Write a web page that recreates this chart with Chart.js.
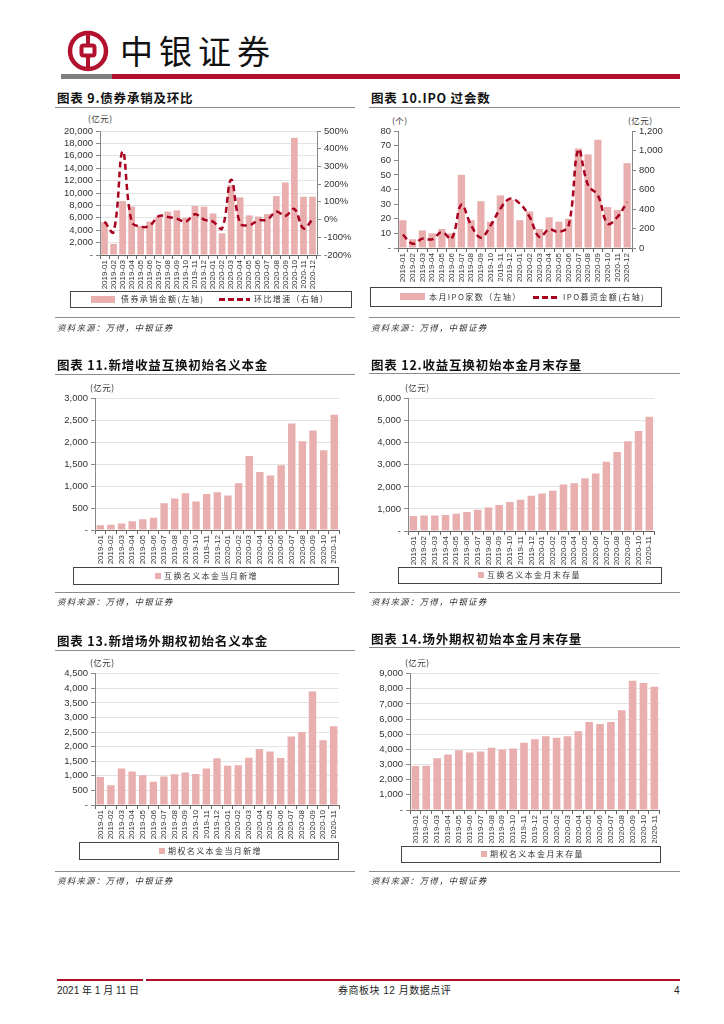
<!DOCTYPE html>
<html><head><meta charset="utf-8">
<script src="https://cdn.jsdelivr.net/npm/chart.js@4.4.0/dist/chart.umd.min.js"></script>
<style>
html,body{margin:0;padding:0;background:#fff;}
body{width:724px;height:1024px;position:relative;overflow:hidden;font-family:"Liberation Sans","Noto Sans CJK SC",sans-serif;color:#222;}
.a{position:absolute;white-space:nowrap;}
.title{font-family:"Noto Sans CJK SC";font-weight:700;font-size:12.5px;line-height:14px;letter-spacing:0.8px;color:#111;}
.hr{position:absolute;height:0;border-top:1.5px solid #8c8c8c;}
.src{font-family:"Noto Sans CJK SC";font-style:italic;font-size:8.5px;line-height:10px;letter-spacing:1.2px;color:#333;}
.unit{font-family:"Noto Sans CJK SC";font-size:8.5px;line-height:10px;letter-spacing:0.5px;color:#333;}
.lgbox{position:absolute;border:1.5px solid #444;box-sizing:border-box;}
.lgt{position:absolute;white-space:nowrap;font-family:"Noto Sans CJK SC";font-size:8px;line-height:10px;letter-spacing:1.4px;color:#333;}
.sw{position:absolute;background:#e9aeae;}
.dash{position:absolute;height:2.5px;background:repeating-linear-gradient(90deg,#a8001f 0 6px,transparent 6px 9px);}
canvas{position:absolute;}
</style>
</head>
<body>
<!-- header -->
<svg class="a" style="left:66px;top:29px" width="44" height="44" viewBox="0 0 44 44">
  <circle cx="22" cy="22" r="18" fill="none" stroke="#b3122f" stroke-width="4.5"/>
  <rect x="15.5" y="16.5" width="13" height="10" rx="2" fill="none" stroke="#b3122f" stroke-width="4"/>
  <line x1="22" y1="4" x2="22" y2="15" stroke="#b3122f" stroke-width="4"/>
  <line x1="22" y1="28" x2="22" y2="40" stroke="#b3122f" stroke-width="4"/>
</svg>
<div class="a" style="left:120px;top:28px;font-family:'Noto Sans CJK SC';font-size:33px;line-height:44px;letter-spacing:6px;color:#111;">中银证券</div>
<div class="a" style="left:61px;top:74px;width:51px;height:5px;background:#7f7f7f;"></div>
<div class="a" style="left:112px;top:74px;width:568px;height:5px;background:#b0102b;"></div>

<!-- chart 9 -->
<div class="a title" style="left:57px;top:91px;">图表 9.债券承销及环比</div>
<div class="hr" style="left:55px;top:107px;width:300px;"></div>
<div class="a unit" style="left:88px;top:113px;">(亿元)</div>
<canvas id="c9"></canvas>
<div class="lgbox" style="left:70px;top:291px;width:282px;height:17px;"></div>
<div class="sw" style="left:91px;top:296px;width:24px;height:7px;"></div>
<div class="lgt" style="left:121px;top:294px;">债券承销金额(左轴)</div>
<div class="dash" style="left:219px;top:298px;width:31px;"></div>
<div class="lgt" style="left:254px;top:294px;">环比增速（右轴）</div>
<div class="hr" style="left:55px;top:317px;width:300px;"></div>
<div class="a src" style="left:57px;top:322px;">资料来源：万得，中银证券</div>

<!-- chart 10 -->
<div class="a title" style="left:371px;top:91px;">图表 10.IPO 过会数</div>
<div class="hr" style="left:369px;top:107px;width:311px;"></div>
<div class="a unit" style="left:392px;top:115px;">(个)</div>
<div class="a unit" style="left:628px;top:115px;">(亿元)</div>
<canvas id="c10"></canvas>
<div class="lgbox" style="left:370px;top:287px;width:292px;height:20px;"></div>
<div class="sw" style="left:400px;top:293px;width:25px;height:7px;"></div>
<div class="lgt" style="left:429px;top:292px;">本月IPO家数（左轴）</div>
<div class="dash" style="left:533px;top:296px;width:26px;"></div>
<div class="lgt" style="left:563px;top:292px;">IPO募资金额(右轴)</div>
<div class="hr" style="left:369px;top:317px;width:311px;"></div>
<div class="a src" style="left:371px;top:322px;">资料来源：万得，中银证券</div>

<!-- chart 11 -->
<div class="a title" style="left:57px;top:358px;">图表 11.新增收益互换初始名义本金</div>
<div class="hr" style="left:55px;top:374px;width:300px;"></div>
<div class="a unit" style="left:90px;top:382px;">(亿元)</div>
<canvas id="c11"></canvas>
<div class="lgbox" style="left:73px;top:567px;width:266px;height:18px;"></div>
<div class="sw" style="left:155px;top:573px;width:6px;height:6px;"></div>
<div class="lgt" style="left:164px;top:571px;">互换名义本金当月新增</div>
<div class="hr" style="left:55px;top:592px;width:300px;"></div>
<div class="a src" style="left:57px;top:596px;">资料来源：万得，中银证券</div>

<!-- chart 12 -->
<div class="a title" style="left:371px;top:358px;">图表 12.收益互换初始本金月末存量</div>
<div class="hr" style="left:369px;top:373px;width:311px;"></div>
<div class="a unit" style="left:405px;top:382px;">(亿元)</div>
<canvas id="c12"></canvas>
<div class="lgbox" style="left:398px;top:567px;width:264px;height:17px;"></div>
<div class="sw" style="left:478px;top:572px;width:6px;height:6px;"></div>
<div class="lgt" style="left:487px;top:570px;">互换名义本金月末存量</div>
<div class="hr" style="left:369px;top:592px;width:311px;"></div>
<div class="a src" style="left:371px;top:596px;">资料来源：万得，中银证券</div>

<!-- chart 13 -->
<div class="a title" style="left:57px;top:634px;">图表 13.新增场外期权初始名义本金</div>
<div class="hr" style="left:55px;top:650px;width:300px;"></div>
<div class="a unit" style="left:90px;top:657px;">(亿元)</div>
<canvas id="c13"></canvas>
<div class="lgbox" style="left:79px;top:842px;width:260px;height:18px;"></div>
<div class="sw" style="left:159px;top:848px;width:6px;height:6px;"></div>
<div class="lgt" style="left:168px;top:846px;">期权名义本金当月新增</div>
<div class="hr" style="left:55px;top:871px;width:300px;"></div>
<div class="a src" style="left:57px;top:875px;">资料来源：万得，中银证券</div>

<!-- chart 14 -->
<div class="a title" style="left:371px;top:632px;">图表 14.场外期权初始本金月末存量</div>
<div class="hr" style="left:369px;top:647px;width:311px;"></div>
<div class="a unit" style="left:405px;top:657px;">(亿元)</div>
<canvas id="c14"></canvas>
<div class="lgbox" style="left:401px;top:846px;width:260px;height:17px;"></div>
<div class="sw" style="left:481px;top:851px;width:6px;height:6px;"></div>
<div class="lgt" style="left:490px;top:849px;">期权名义本金月末存量</div>
<div class="hr" style="left:369px;top:871px;width:311px;"></div>
<div class="a src" style="left:371px;top:875px;">资料来源：万得，中银证券</div>

<!-- footer -->
<div class="a" style="left:57px;top:979px;width:86px;height:1.5px;background:#b0102b;"></div>
<div class="a" style="left:146px;top:979px;width:534px;height:1.5px;background:#b0102b;"></div>
<div class="a" style="left:57px;top:985px;font-size:10px;line-height:12px;">2021 年 1 月 11 日</div>
<div class="a" style="left:338px;top:985px;font-size:10px;line-height:12px;letter-spacing:0.5px;">券商板块 12 月数据点评</div>
<div class="a" style="left:674px;top:985px;font-size:10px;line-height:12px;">4</div>

<script>
// ---------- data ----------
const months24 = ['2019-01','2019-02','2019-03','2019-04','2019-05','2019-06','2019-07','2019-08','2019-09','2019-10','2019-11','2019-12',
                  '2020-01','2020-02','2020-03','2020-04','2020-05','2020-06','2020-07','2020-08','2020-09','2020-10','2020-11','2020-12'];
const months23 = ['2019-01','2019-02','2019-03','2019-04','2019-05','2019-06','2019-07','2019-08','2019-09','2019-10','2019-11','2019-12',
                  '2020-01','2020-02','2020-03','2020-04','2020-05','2020-06','2020-07','2020-08','2020-09','2020-10','2020-11'];

const bondUnderwriting = [5300,1800,8700,7800,4700,5400,6200,7000,7200,6000,7900,7800,
                          6700,3500,11300,9300,6400,6200,6600,9500,11700,18900,9400,9400];
const bondMoM = [-12,-70,385,-12,-40,-35,20,15,5,-12,30,0,
                 -12,-50,225,-20,-32,-5,0,45,20,60,-50,0];

const ipoCount = [19,6,12,10,13,10,50,19,32,18,36,33,
                  19,25,13,21,18,20,68,64,74,28,26,58];
const ipoAmount = [137,44,96,89,164,96,444,232,106,232,403,506,
                   455,318,113,191,164,232,1008,643,540,250,318,472];

const swapNew = [110,120,150,200,245,280,610,720,840,650,820,865,
                 790,1070,1690,1324,1247,1477,2434,2028,2272,1821,2633];
const swapStock = [680,700,700,730,780,860,965,1070,1176,1311,1417,1598,
                   1704,1824,2110,2171,2397,2608,3136,3588,4070,4538,5186];
const optNew = [960,680,1247,1145,1020,793,975,1054,1111,1066,1247,1598,
                1349,1360,1621,1916,1836,1610,2346,2505,3888,2222,2698];
const optStock = [2900,2920,3424,3666,3951,3797,3863,4105,3995,4061,4434,4675,
                  4873,4763,4873,5202,5817,5685,5817,6585,8538,8385,8143];

// ---------- styling ----------
const PINK = '#e9aeae';
const DARKRED = '#a8001f';
const FAM = '"Liberation Sans", Arial, sans-serif';
const EXTRA = 10; // extra room below x-axis for rotated labels
const fmtNum = v => v === 0 ? '-' : v.toLocaleString('en-US');

function place(id, box){
  const c = document.getElementById(id);
  const h = box.h + EXTRA;
  c.width = box.w; c.height = h;
  c.style.left = box.x + 'px'; c.style.top = box.y + 'px';
  c.style.width = box.w + 'px'; c.style.height = h + 'px';
  return c.getContext('2d');
}

function xScale(h){
  return {
    type:'category', offset:true,
    grid:{display:true, drawOnChartArea:false, drawTicks:true, tickLength:4, tickColor:'#666', offset:true},
    border:{display:true, color:'#666', width:1},
    ticks:{minRotation:90, maxRotation:90, autoSkip:false, color:'#333', padding:1, font:{family:FAM, size:8}},
    afterFit: s => { s.height = h; }
  };
}
function yScale(w, max, step, gridOn, cb, pos){
  return {
    position: pos || 'left', min:0, max:max,
    grid:{display:true, drawOnChartArea:gridOn, color:'#e3e3e3', lineWidth:1, drawTicks:true, tickLength:4, tickColor:'#888'},
    border:{display:true, color:'#888', width:1},
    ticks:{stepSize:step, autoSkip:false, callback: cb || fmtNum, color:'#333', padding:3, font:{family:FAM, size:9.5}},
    afterFit: s => { s.width = w; }
  };
}

function barChart(id, box, area, labels, data, max, step, name){
  const ctx = place(id, box);
  return new Chart(ctx, {
    type:'bar',
    data:{labels:labels, datasets:[{label:name, data:data, backgroundColor:PINK, barPercentage:0.7, categoryPercentage:1.0}]},
    options:{
      responsive:false, animation:false,
      layout:{padding:{top: area.t - box.y, right: box.x + box.w - area.r, left:0, bottom:EXTRA}},
      plugins:{legend:{display:false}, tooltip:{enabled:false}},
      scales:{
        x: xScale(box.y + box.h - area.b),
        y: yScale(area.l - box.x, max, step, true)
      }
    }
  });
}

function comboChart(id, box, area, labels, bars, line, yMax, yStep, y1Min, y1Max, y1Step, y1cb, names, grid){
  const ctx = place(id, box);
  const y1 = yScale(box.x + box.w - area.r, y1Max, y1Step, false, y1cb, 'right');
  y1.min = y1Min;
  return new Chart(ctx, {
    data:{labels:labels, datasets:[
      {type:'line', label:names[1], data:line, yAxisID:'y1', borderColor:DARKRED, borderWidth:2.5, borderDash:[6,4],
       pointRadius:0, tension:0.4, fill:false, order:0},
      {type:'bar', label:names[0], data:bars, yAxisID:'y', backgroundColor:PINK, barPercentage:0.74, categoryPercentage:1.0, order:1}
    ]},
    options:{
      responsive:false, animation:false,
      layout:{padding:{top: area.t - box.y, right:0, left:0, bottom:EXTRA}},
      plugins:{legend:{display:false}, tooltip:{enabled:false}},
      scales:{
        x: xScale(box.y + box.h - area.b),
        y: yScale(area.l - box.x, yMax, yStep, grid),
        y1: y1
      }
    }
  });
}

comboChart('c9', {x:55,y:122,w:305,h:170}, {l:100,r:317,t:131,b:255}, months24, bondUnderwriting, bondMoM,
  20000, 2000, -200, 500, 100, v => v + '%', ['债券承销金额(左轴)','环比增速（右轴）'], true);

comboChart('c10', {x:360,y:122,w:305,h:163}, {l:398,r:632,t:131,b:248}, months24, ipoCount, ipoAmount,
  80, 10, 0, 1200, 200, v => v.toLocaleString('en-US'), ['本月IPO家数（左轴）','IPO募资金额(右轴)'], false);

barChart('c11', {x:55,y:390,w:290,h:175}, {l:95,r:340,t:398,b:530}, months23, swapNew, 3000, 500, '互换名义本金当月新增');
barChart('c12', {x:365,y:390,w:295,h:175}, {l:408,r:655,t:398,b:531}, months23, swapStock, 6000, 1000, '互换名义本金月末存量');
barChart('c13', {x:55,y:665,w:290,h:175}, {l:95,r:339,t:673,b:805}, months23, optNew, 4500, 500, '期权名义本金当月新增');
barChart('c14', {x:365,y:665,w:300,h:178}, {l:410,r:661,t:673,b:810}, months23, optStock, 9000, 1000, '期权名义本金月末存量');
</script>
</body></html>
